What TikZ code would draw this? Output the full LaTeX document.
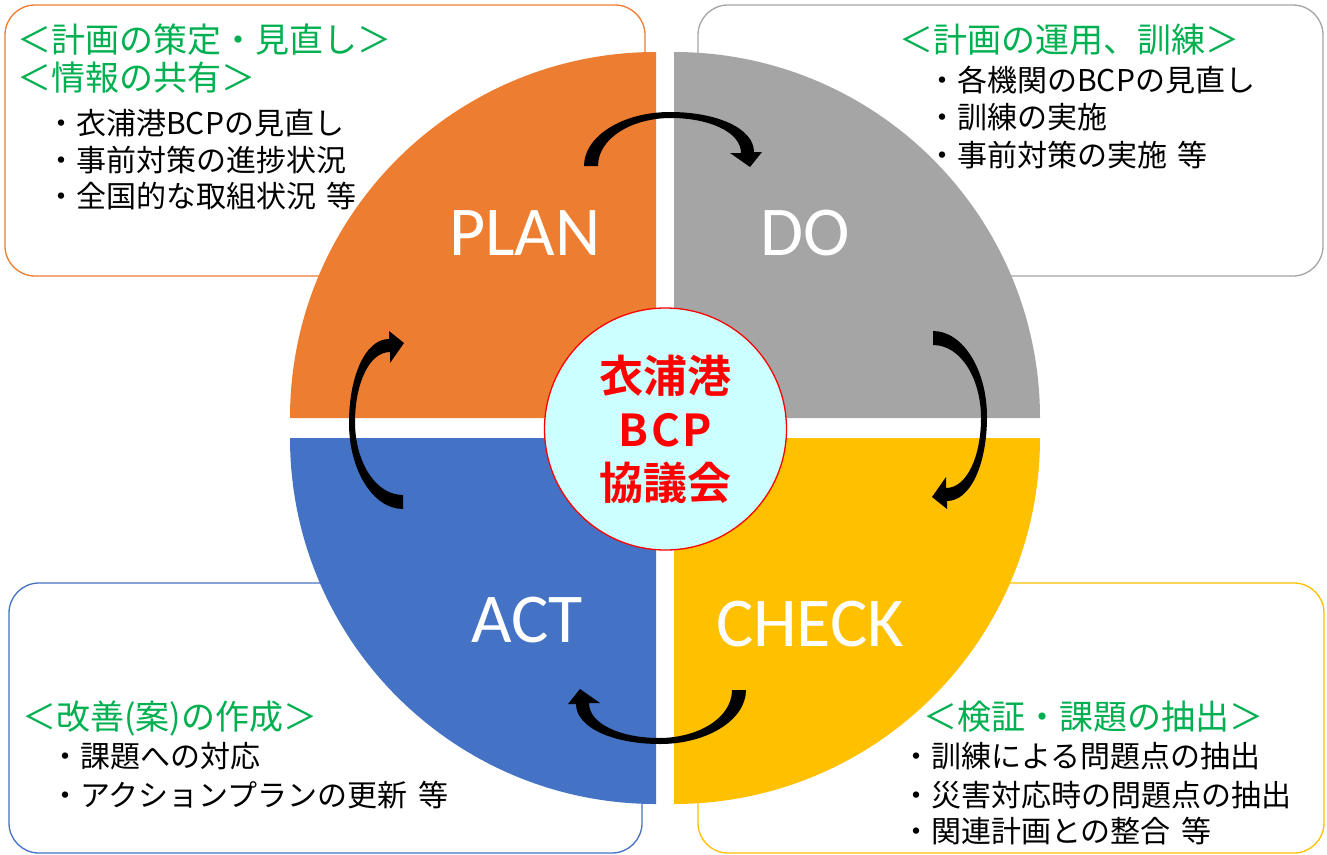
\documentclass[tikz,border=0pt]{standalone}
\usepackage{fontspec}
\newfontfamily\jpfont{Noto Sans CJK JP}
\newfontfamily\jpbold{Noto Sans CJK JP Bold}
\newfontfamily\labfont{Carlito}
\definecolor{cplan}{HTML}{ED7D31}
\definecolor{cdo}{HTML}{A5A5A5}
\definecolor{ccheck}{HTML}{FFC000}
\definecolor{cact}{HTML}{4472C4}
\definecolor{cgreen}{HTML}{00B050}
\definecolor{ccenter}{HTML}{CCFFFF}
\newcommand\cyclearrowpath{(-81,-262) .. controls (-81,-292) and (-42,-316) .. (5,-316) .. controls (51,-316) and (89,-300) .. (89,-276) -- (97,-276) -- (85,-261) -- (65,-275) -- (76,-275) .. controls (76,-296) and (44,-310) .. (6,-310) .. controls (-33,-310) and (-67,-290) .. (-67,-262) -- cycle}
\newcommand\tou{\hspace{0.35em}等}
\begin{document}
\begin{tikzpicture}[x=1pt,y=-1pt,
  hd/.style={font=\jpfont\fontsize{34}{34}\selectfont, text=cgreen, anchor=base west, inner sep=0pt},
  bl/.style={font=\jpfont\fontsize{30}{30}\selectfont, text=black, anchor=base west, inner sep=0pt},
  lab/.style={font=\labfont\fontsize{70}{70}\selectfont, text=white, inner sep=0pt},
  hubtext/.style={font=\jpbold\fontsize{44}{44}\selectfont, text=red, inner sep=0pt},
  box/.style={rounded corners=30pt, line width=1.3pt, fill=white},
  carrow/.style={fill=black}]
\fill[white] (0,0) rectangle (1327,854);
\useasboundingbox (0,0) rectangle (1327,854);
% boxes
\draw[box, draw=cplan] (5,5) rectangle (645,276);
\draw[box, draw=cdo] (698,5) rectangle (1323,276);
\draw[box, draw=cact] (9,583) rectangle (642,853);
\draw[box, draw=ccheck] (698,583) rectangle (1324,853);
% texts
\node[hd] (tl1) at (17,52.5) {＜計画の策定・見直し＞};
\node[hd] (tl2) at (17,90.5) {＜情報の共有＞};
\node[bl] (tl3) at (46,134) {・衣浦港BCPの見直し};
\node[bl] (tl4) at (46,171) {・事前対策の進捗状況};
\node[bl] (tl5) at (46,207) {・全国的な取組状況\tou};
\node[hd] (tr1) at (899,52.5) {＜計画の運用、訓練＞};
\node[bl] (tr2) at (927,91) {・各機関のBCPの見直し};
\node[bl] (tr3) at (927,128) {・訓練の実施};
\node[bl] (tr4) at (927,166) {・事前対策の実施\tou};
\node[hd] (bl1) at (22,729.5) {＜改善(案)の作成＞};
\node[bl] (bl2) at (50,767) {・課題への対応};
\node[bl] (bl3) at (50,806) {・アクションプランの更新\tou};
\node[hd] (br1) at (923,729.5) {＜検証・課題の抽出＞};
\node[bl] (br2) at (901,767) {・訓練による問題点の抽出};
\node[bl] (br3) at (901,806) {・災害対応時の問題点の抽出};
\node[bl] (br4) at (901,842) {・関連計画との整合\tou};
% quadrants
\fill[cplan] (656,418) -- (290,418) arc[start angle=180,end angle=90,radius=366pt] -- cycle;
\fill[cdo] (674,418) -- (674,52) arc[start angle=90,end angle=0,radius=366pt] -- cycle;
\fill[ccheck] (674,438) -- (1040,438) arc[start angle=0,end angle=-90,radius=366pt] -- cycle;
\fill[cact] (656,438) -- (656,804) arc[start angle=-90,end angle=-180,radius=366pt] -- cycle;
% labels
\node[lab] (plan) at (525,233.5) {PLAN};
\node[lab] (do) at (805,233) {DO};
\node[lab] (act) at (527,620) {ACT};
\node[lab] (check) at (810,624) {CHECK};
% center
\node[circle, draw=red, line width=1.3pt, fill=ccenter, minimum size=242pt, inner sep=0pt] (hub) at (665.5,429) {};
\node[hubtext] (h1) at (665.5,376) {衣浦港};
\node[hubtext] (h2) at (665.5,430) {\addfontfeature{LetterSpace=6}BCP};
\node[hubtext] (h3) at (665.5,483) {協議会};
% arrows
\begin{scope}[shift={(665,428)}]
\fill[carrow] \cyclearrowpath;
\end{scope}
\begin{scope}[shift={(671,412)}, rotate=-90]
\fill[carrow] \cyclearrowpath;
\end{scope}
\begin{scope}[shift={(665,428)}, rotate=180]
\fill[carrow] \cyclearrowpath;
\end{scope}
\begin{scope}[shift={(665,428)}, rotate=90]
\fill[carrow] \cyclearrowpath;
\end{scope}
\end{tikzpicture}
\end{document}
